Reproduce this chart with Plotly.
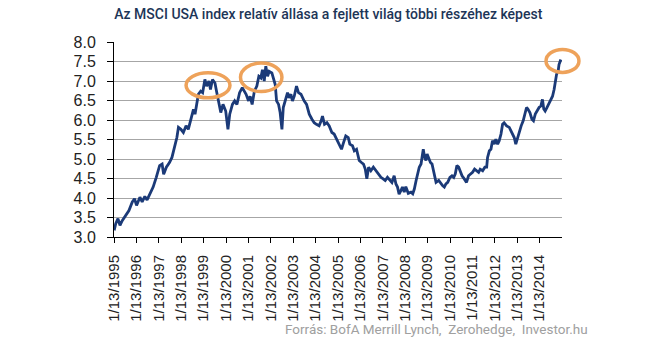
import plotly.graph_objects as go

# ---- data (decimal years, relative index level) ----
years = [
    1995.04, 1995.11, 1995.21, 1995.30, 1995.40, 1995.55, 1995.70, 1995.85, 1995.95,
    1996.04, 1996.19, 1996.29, 1996.41, 1996.51, 1996.63, 1996.78, 1996.92,
    1997.07, 1997.18, 1997.25, 1997.37, 1997.51, 1997.62, 1997.72, 1997.84, 1997.91,
    1998.02, 1998.13, 1998.25, 1998.35, 1998.43, 1998.50, 1998.58, 1998.65, 1998.72, 1998.80, 1998.90, 1998.99,
    1999.09, 1999.17, 1999.27, 1999.34, 1999.43, 1999.54, 1999.61, 1999.73, 1999.80, 1999.90,
    2000.02, 2000.12, 2000.20, 2000.32, 2000.42, 2000.52, 2000.64, 2000.76, 2000.86, 2000.93,
    2001.04, 2001.11, 2001.20, 2001.30, 2001.41, 2001.50, 2001.59, 2001.66, 2001.74, 2001.81, 2001.89, 2001.96,
    2002.08, 2002.16, 2002.23, 2002.29, 2002.38, 2002.45, 2002.53, 2002.59, 2002.68, 2002.78, 2002.85, 2002.93,
    2003.00, 2003.08, 2003.18, 2003.27, 2003.38, 2003.45, 2003.52, 2003.63, 2003.75, 2003.87, 2003.97,
    2004.07, 2004.19, 2004.28, 2004.34, 2004.43, 2004.54, 2004.64, 2004.76, 2004.86, 2004.97,
    2005.09, 2005.19, 2005.28, 2005.38, 2005.49, 2005.56, 2005.68, 2005.76, 2005.86, 2005.98,
    2006.08, 2006.17, 2006.25, 2006.32, 2006.40, 2006.50, 2006.61, 2006.72, 2006.84, 2006.95,
    2007.05, 2007.14, 2007.24, 2007.35, 2007.44, 2007.54, 2007.62, 2007.69, 2007.76, 2007.84, 2007.91, 2007.99,
    2008.06, 2008.17, 2008.29, 2008.37, 2008.44, 2008.52, 2008.59, 2008.66, 2008.74, 2008.78, 2008.84, 2008.90, 2008.96,
    2009.01, 2009.08, 2009.16, 2009.23, 2009.29, 2009.35, 2009.41, 2009.53, 2009.63, 2009.70, 2009.78, 2009.85, 2009.93,
    2010.03, 2010.12, 2010.20, 2010.27, 2010.34, 2010.42, 2010.48, 2010.57, 2010.67, 2010.77, 2010.86, 2010.97,
    2011.04, 2011.13, 2011.22, 2011.31, 2011.38, 2011.49, 2011.59, 2011.67, 2011.71, 2011.79, 2011.86, 2011.93,
    2012.01, 2012.08, 2012.16, 2012.23, 2012.31, 2012.38, 2012.45, 2012.56, 2012.68, 2012.80, 2012.90, 2012.97,
    2013.05, 2013.12, 2013.21, 2013.30, 2013.39, 2013.45, 2013.51, 2013.60, 2013.69, 2013.76, 2013.84, 2013.91,
    2014.01, 2014.09, 2014.16, 2014.22, 2014.28, 2014.36, 2014.43, 2014.53, 2014.61, 2014.68, 2014.73, 2014.79,
    2014.86, 2014.90, 2014.98,
]
values = [
    3.17, 3.34, 3.47, 3.30, 3.42, 3.55, 3.68, 3.90, 3.98,
    3.81, 4.02, 3.90, 4.04, 3.95, 4.10, 4.28, 4.53,
    4.83, 4.87, 4.61, 4.79, 4.91, 5.04, 5.25, 5.55, 5.81,
    5.76, 5.68, 5.85, 5.76, 5.93, 6.15, 6.27, 6.15, 6.44, 6.66, 6.74, 6.70,
    7.04, 6.87, 7.00, 6.78, 7.04, 6.95, 6.74, 6.40, 6.19, 6.40,
    6.23, 5.76, 6.15, 6.40, 6.49, 6.40, 6.70, 6.83, 6.74, 6.66,
    6.49, 6.61, 6.40, 6.74, 6.87, 7.12, 7.08, 7.29, 7.00, 7.38, 7.12, 7.25,
    7.21, 7.08, 6.91, 6.49, 6.40, 6.19, 5.76, 6.32, 6.49, 6.70, 6.57, 6.66,
    6.49, 6.61, 6.87, 6.70, 6.66, 6.57, 6.49, 6.40, 6.15, 6.02, 5.93,
    5.89, 5.85, 5.98, 6.10, 5.89, 5.93, 5.85, 5.68, 5.64, 5.51,
    5.38, 5.25, 5.42, 5.59, 5.55, 5.38, 5.34, 5.21, 5.25, 4.96,
    4.91, 4.87, 4.74, 4.49, 4.79, 4.70, 4.79, 4.70, 4.62, 4.53,
    4.49, 4.45, 4.53, 4.45, 4.40, 4.57, 4.36, 4.28, 4.10, 4.19, 4.28, 4.15,
    4.29, 4.12, 4.15, 4.11, 4.23, 4.45, 4.62, 4.79, 4.87, 5.08, 5.25, 5.04, 4.96,
    5.13, 5.00, 4.91, 4.87, 4.70, 4.53, 4.40, 4.45, 4.36, 4.32, 4.28, 4.36, 4.40,
    4.53, 4.57, 4.53, 4.62, 4.83, 4.79, 4.70, 4.57, 4.49, 4.40, 4.57, 4.62,
    4.66, 4.74, 4.70, 4.66, 4.74, 4.70, 4.79, 4.79, 5.04, 5.21, 5.25, 5.47,
    5.38, 5.51, 5.38, 5.47, 5.64, 5.89, 5.93, 5.85, 5.81, 5.68, 5.55, 5.38,
    5.55, 5.72, 5.85, 5.98, 6.15, 6.32, 6.28, 6.19, 6.02, 5.98, 6.15, 6.23,
    6.32, 6.36, 6.53, 6.28, 6.23, 6.32, 6.40, 6.49, 6.61, 6.78, 7.00, 7.17,
    7.25, 7.42, 7.55,
]

tick_years = list(range(1995, 2015))
tick_labels = ["1/13/%d" % y for y in tick_years]
tick_vals = [y + 12 / 365.25 for y in tick_years]

# highlighted regions (data units: year range, value range)
highlights = [
    (1998.25, 2000.21, 6.57, 7.21),
    (2000.68, 2002.53, 6.73, 7.46),
    (2014.32, 2015.79, 7.22, 7.81),
]

x_range = [tick_vals[0], tick_vals[0] + 20]
y_range = [3.0, 8.0]

fig = go.Figure()
fig.add_trace(go.Scatter(
    x=years, y=values, mode="lines",
    line=dict(color="#1b3a78", width=2.8),
    hoverinfo="skip", showlegend=False,
))

def to_dom(v, r):
    return (v - r[0]) / (r[1] - r[0])

for x0, x1, y0, y1 in highlights:
    fig.add_shape(
        type="circle", xref="x domain", yref="y domain",
        x0=to_dom(x0, x_range), x1=to_dom(x1, x_range),
        y0=to_dom(y0, y_range), y1=to_dom(y1, y_range),
        line=dict(color="#eea25a", width=3.5), layer="above",
    )

fig.update_layout(
    width=645, height=346,
    margin=dict(l=114, r=83, t=42, b=109),
    paper_bgcolor="white", plot_bgcolor="white",
    title=dict(
        text="Az MSCI USA index relatív állása a fejlett világ többi részéhez képest",
        x=0.509, xref="container", xanchor="center",
        y=1 - 14 / 346, yref="container", yanchor="middle",
        font=dict(family="Roboto", size=14, color="#1d3557", weight=500),
    ),
    xaxis=dict(
        range=x_range, tickmode="array", tickvals=tick_vals, ticktext=tick_labels,
        tickangle=-90, showgrid=False, zeroline=False,
        showline=True, linecolor="#000000", linewidth=1,
        ticks="outside", ticklen=5, tickcolor="#000000", tickwidth=1,
        ticklabelstandoff=6,
        tickfont=dict(family="Liberation Sans", size=15, color="#222222"),
    ),
    yaxis=dict(
        range=y_range, tickmode="array",
        tickvals=[3.0, 3.5, 4.0, 4.5, 5.0, 5.5, 6.0, 6.5, 7.0, 7.5, 8.0],
        tickformat=".1f",
        showgrid=True, gridcolor="#a6a6a6", gridwidth=1, zeroline=False,
        showline=True, linecolor="#000000", linewidth=1,
        ticks="outside", ticklen=6, tickcolor="#000000", tickwidth=1,
        ticklabelstandoff=8,
        tickfont=dict(family="Liberation Sans", size=16, color="#222222"),
    ),
    annotations=[dict(
        text="Forrás: BofA Merrill Lynch,  Zerohedge,  Investor.hu",
        xref="paper", yref="paper", x=(590 - 114) / 448, y=(237 - 329) / 195,
        xanchor="right", yanchor="middle", showarrow=False,
        font=dict(family="Roboto", size=13.5, color="#a0a0a0"),
    )],
)

fig.write_html("out.html")
